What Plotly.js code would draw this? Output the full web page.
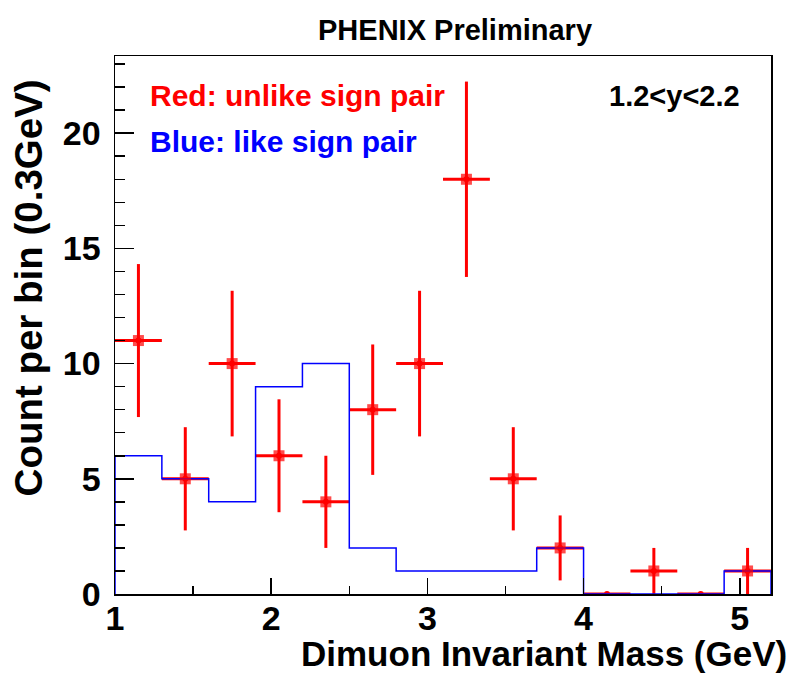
<!DOCTYPE html>
<html>
<head>
<meta charset="utf-8">
<script src="https://cdn.plot.ly/plotly-3.0.1.min.js"></script>
<style>html,body{margin:0;padding:0;background:#fff;}#chart{width:790px;height:688px;}</style>
</head>
<body>
<div id="chart"></div>
<script>
// Bin edges (GeV), 0.3 GeV bins
const binEdges = [1.0, 1.3, 1.6, 1.9, 2.2, 2.5, 2.8, 3.1, 3.4, 3.7, 4.0, 4.3, 4.6, 4.9, 5.2];
// Red: unlike sign pairs (counts per bin) and their errors
const unlikeCounts = [11, 5, 10, 6, 4, 8, 10, 18, 5, 2, 0, 1, 0, 1];
const unlikeErrors = [3.32, 2.24, 3.16, 2.45, 2.0, 2.83, 3.16, 4.24, 2.24, 1.41, 0, 1.0, 0, 1.0];
// Blue: like sign pairs (counts per bin)
const likeCounts = [6, 5, 4, 9, 10, 2, 1, 1, 1, 2, 0, 0, 0, 1];
const xTickVals = [1, 2, 3, 4, 5];
const yTickVals = [0, 5, 10, 15, 20];

const centers = [], halfW = [];
for (let i = 0; i < binEdges.length - 1; i++) {
  centers.push((binEdges[i] + binEdges[i + 1]) / 2);
  halfW.push((binEdges[i + 1] - binEdges[i]) / 2);
}
// step outline for the blue histogram
const stepX = [binEdges[0]], stepY = [0];
for (let i = 0; i < likeCounts.length; i++) { stepX.push(binEdges[i]); stepY.push(likeCounts[i]); }
stepX.push(binEdges[binEdges.length - 1]); stepY.push(likeCounts[likeCounts.length - 1]);
stepX.push(binEdges[binEdges.length - 1]); stepY.push(0);

const RED = '#ff0000', BLUE = '#0000ff';
const markerSizes = unlikeCounts.map(v => v > 0 ? 11 : 0);

const traces = [
  { // red error bars
    x: centers, y: unlikeCounts, type: 'scatter', mode: 'markers',
    marker: {size: 0, color: RED},
    error_y: {type: 'data', array: unlikeErrors, color: RED, thickness: 3, width: 0},
    error_x: {type: 'data', array: halfW, color: RED, thickness: 3, width: 0},
    hoverinfo: 'skip', showlegend: false
  },
  { // blue histogram
    x: stepX, y: stepY, type: 'scatter', mode: 'lines',
    line: {color: BLUE, width: 1.5, shape: 'hv'}, showlegend: false
  },
  { // red markers
    x: centers, y: unlikeCounts, type: 'scatter', mode: 'markers',
    marker: {symbol: 'square', size: markerSizes, color: RED, line: {width: 0}},
    showlegend: false
  }
];

const tickFont = {family: '"Liberation Sans", Arial, sans-serif', size: 34, color: '#000', weight: 'bold'};
const boldFont = {family: '"Liberation Sans", Arial, sans-serif', color: '#000', weight: 'bold'};

const layout = {
  width: 790, height: 688,
  margin: {l: 115, r: 19, t: 56, b: 94},
  paper_bgcolor: '#fff', plot_bgcolor: '#fff',
  showlegend: false,
  title: {text: 'PHENIX Preliminary', xref: 'container', yref: 'container', x: 0.576, xanchor: 'center', y: 0.956, yanchor: 'middle',
          font: Object.assign({}, boldFont, {size: 29})},
  xaxis: {
    range: [1, 5.2], tickvals: xTickVals, ticktext: xTickVals.map(String),
    ticks: 'inside', ticklen: 16, tickwidth: 1.5, tickcolor: '#000',
    minor: {dtick: 0.5, tick0: 1, ticks: 'inside', ticklen: 8, tickwidth: 1.5, tickcolor: '#000', showgrid: false},
    showline: true, mirror: true, linecolor: '#000', linewidth: 1.5,
    showgrid: false, zeroline: false, tickfont: tickFont, ticklabelstandoff: -6
  },
  yaxis: {
    range: [0, 23.35], tickvals: yTickVals, ticktext: yTickVals.map(String),
    ticks: 'inside', ticklen: 19, tickwidth: 1.5, tickcolor: '#000',
    minor: {dtick: 1, tick0: 0, ticks: 'inside', ticklen: 10, tickwidth: 1.5, tickcolor: '#000', showgrid: false},
    showline: true, mirror: true, linecolor: '#000', linewidth: 1.5,
    showgrid: false, zeroline: false, tickfont: tickFont, ticklabelstandoff: 6
  },
  annotations: [
    {text: 'Count per bin (0.3GeV)', xref: 'paper', yref: 'paper', x: -0.132, y: 0.96, xanchor: 'center', yanchor: 'top',
     textangle: -90, showarrow: false, font: Object.assign({}, boldFont, {size: 38.5})},
    {text: 'Dimuon Invariant Mass (GeV)', xref: 'paper', yref: 'paper', x: 1.028, y: -0.11, xanchor: 'right', yanchor: 'middle',
     showarrow: false, font: Object.assign({}, boldFont, {size: 35})},
    {text: 'Red: unlike sign pair', xref: 'paper', yref: 'paper', x: 0.0503, y: 0.9257, xanchor: 'left', yanchor: 'middle',
     showarrow: false, font: Object.assign({}, boldFont, {size: 30, color: RED})},
    {text: 'Blue: like sign pair', xref: 'paper', yref: 'paper', x: 0.0503, y: 0.842, xanchor: 'left', yanchor: 'middle',
     showarrow: false, font: Object.assign({}, boldFont, {size: 30, color: BLUE})},
    {text: '1.2<y<2.2', xref: 'paper', yref: 'paper', x: 0.956, y: 0.9257, xanchor: 'right', yanchor: 'middle',
     showarrow: false, font: Object.assign({}, boldFont, {size: 29})}
  ]
};

Plotly.newPlot('chart', traces, layout, {displayModeBar: false, staticPlot: true});
</script>
</body>
</html>
